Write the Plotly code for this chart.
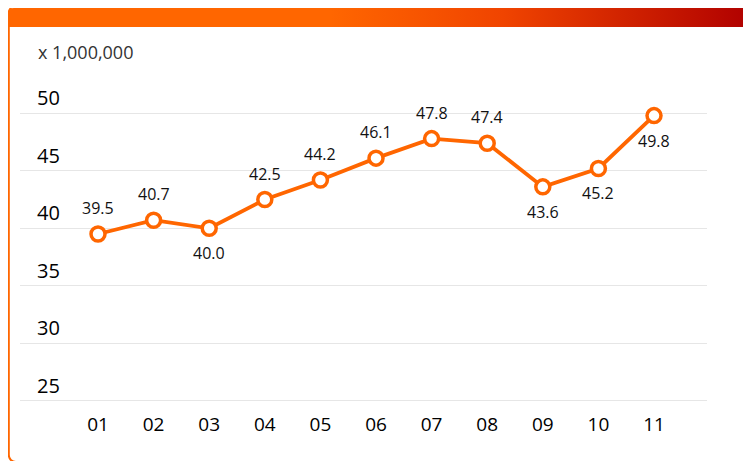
import base64
import plotly.graph_objects as go

months = ["01", "02", "03", "04", "05", "06", "07", "08", "09", "10", "11"]
values = [39.5, 40.7, 40.0, 42.5, 44.2, 46.1, 47.8, 47.4, 43.6, 45.2, 49.8]
label_side = ["above", "above", "below", "above", "above", "above", "above", "above", "below", "below", "below"]
y_ticks = [25, 30, 35, 40, 45, 50]
unit_label = "x 1,000,000"

W, H = 751, 461
ML, MR, MT, MB = 12, 52, 103, 66
PW, PH = W - ML - MR, H - MT - MB
Y_RANGE = [24.8, 50.2]

ORANGE = "#FF6600"

svg = f"""<svg xmlns='http://www.w3.org/2000/svg' width='{W}' height='{H}' viewBox='0 0 {W} {H}' preserveAspectRatio='none'>
<defs><linearGradient id='g' x1='-8' y1='0' x2='{W-8}' y2='0' gradientUnits='userSpaceOnUse'>
<stop offset='0.44' stop-color='#FF6600'/><stop offset='0.67' stop-color='#F04400'/><stop offset='1' stop-color='#B00000'/>
</linearGradient></defs>
<rect x='0.8' y='-2' width='800' height='456' rx='7' ry='7' fill='white' stroke='{ORANGE}' stroke-width='2'/>
<path d='M-0.2,19 L-0.2,6 Q-0.2,0 5.8,0 L{W+10},0 L{W+10},19 Z' fill='url(#g)'/>
</svg>"""
src = "data:image/svg+xml;base64," + base64.b64encode(svg.encode()).decode()

fig = go.Figure()
fig.add_trace(go.Scatter(
    x=months, y=values, mode="lines+markers",
    line=dict(color=ORANGE, width=3.8),
    marker=dict(size=14, color="white", line=dict(color=ORANGE, width=3.5)),
    hoverinfo="skip", cliponaxis=False,
))

ann = []
for i, (v, s) in enumerate(zip(values, label_side)):
    ann.append(dict(x=i, y=v, xref="x", yref="y", text=f"{v:.1f}", showarrow=False,
                    yanchor="middle", xanchor="center", yshift=26 if s == "above" else -25,
                    font=dict(size=16, color="#111")))
for t in y_ticks:
    ann.append(dict(x=(27 - ML) / PW, y=t, xref="paper", yref="y", text=str(t), showarrow=False,
                    xanchor="left", yanchor="middle", yshift=15.5,
                    font=dict(size=20, color="#000")))
ann.append(dict(x=(28 - ML) / PW, y=(H - MB - 44) / PH, xref="paper", yref="paper", text=unit_label,
                showarrow=False, xanchor="left", yanchor="middle",
                font=dict(size=18, color="#333")))

fig.update_layout(
    width=W, height=H,
    margin=dict(l=ML, r=MR, t=MT, b=MB),
    paper_bgcolor="white", plot_bgcolor="white",
    font=dict(family="Open Sans", color="#111"),
    showlegend=False,
    annotations=ann,
    images=[dict(source=src, xref="paper", yref="paper",
                 x=-ML / PW, y=(H - MB) / PH, sizex=W / PW, sizey=H / PH,
                 xanchor="left", yanchor="top", sizing="stretch", layer="below")],
    xaxis=dict(type="category", range=[-1.403, 10.953], showgrid=False, zeroline=False,
               showline=False, ticks="outside", ticklen=4, tickcolor="rgba(0,0,0,0)",
               tickfont=dict(size=19, color="#000")),
    yaxis=dict(range=Y_RANGE, tickvals=y_ticks, showticklabels=False, showgrid=True,
               gridcolor="#E6E6E6", gridwidth=1.2, zeroline=False, showline=False),
)

fig.write_html("out.html")
